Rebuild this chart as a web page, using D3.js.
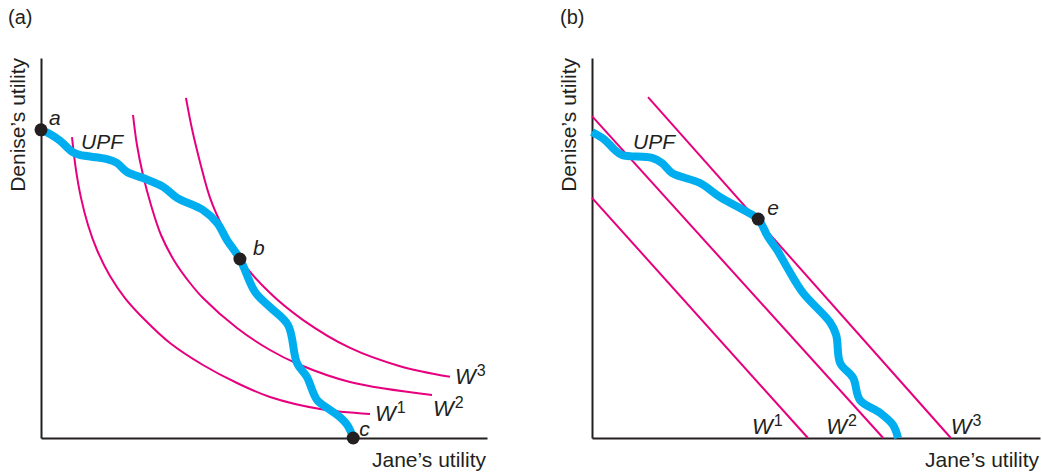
<!DOCTYPE html>
<html>
<head>
<meta charset="utf-8">
<script src="https://cdn.jsdelivr.net/npm/d3@7"></script>
<style>
  html, body { margin: 0; padding: 0; background: #ffffff; }
  svg { display: block; }
  text { font-family: "Liberation Sans", Arial, Helvetica, sans-serif; fill: #231f20; }
</style>
</head>
<body>
<svg id="chart" width="1042" height="472"></svg>
<script>
// ---------- Data (utility units, 0-100 on each axis) ----------
const panelTitles = ["(a)", "(b)"];
const xAxisLabel = "Jane\u2019s utility";
const yAxisLabel = "Denise\u2019s utility";
const frontierLabel = "UPF";

// Panel (a): utility possibilities frontier
const upfA_x = [0, 2.0, 4.3, 7.0, 8.7, 14.8, 17.0, 19.3, 22.9, 27.4, 30.5, 36.3, 39.5, 41.7, 44.6, 48.0, 51.3, 55.4, 57.4, 59.6, 61.9, 64.8, 67.0, 68.8, 70.0];
const upfA_y = [81.1, 80.0, 78.2, 75.3, 74.5, 73.4, 72.4, 70.0, 68.4, 66.1, 63.2, 60.0, 56.6, 52.1, 47.1, 38.4, 34.5, 29.7, 19.7, 16.1, 10.0, 7.4, 5.5, 3.2, 0];

// Panel (a): social indifference curves W1, W2, W3
const w1A_x = [6.95, 7.85, 8.97, 10.54, 12.56, 15.47, 18.83, 23.32, 28.92, 36.32, 43.95, 51.35, 62.56, 73.77];
const w1A_y = [79.2, 70.5, 63.2, 56.05, 49.47, 42.63, 36.84, 31.05, 25.0, 19.21, 14.47, 10.79, 7.63, 6.32];
const w2A_x = [20.63, 21.52, 22.87, 24.66, 26.91, 30.04, 33.41, 36.32, 43.95, 51.35, 57.62, 69.28, 87.67];
const w2A_y = [85.0, 77.1, 69.21, 61.32, 53.42, 46.32, 40.79, 36.84, 28.95, 23.16, 19.47, 14.74, 11.32];
const w3A_x = [32.5, 33.9, 35.7, 37.9, 40.8, 44.8, 51.3, 58.7, 69.3, 80.5, 91.7];
const w3A_y = [89.5, 81.1, 72.4, 63.2, 55.3, 46.8, 38.2, 31.1, 23.7, 18.9, 16.1];

// Panel (a): labelled points
const pointsA_name = ["a", "b", "c"];
const pointsA_x = [0, 44.6, 70.0];
const pointsA_y = [81.1, 47.1, 0];

// Panel (b): utility possibilities frontier
const upfB_x = [0, 2.9, 5.1, 6.7, 13.4, 15.6, 17.9, 24.1, 28.6, 34.6, 37.1, 39.3, 41.3, 43.5, 47.1, 53.1, 54.5, 55.4, 58.3, 59.8, 64.3, 67.2, 68.3];
const upfB_y = [80.5, 78.4, 75.8, 74.5, 73.7, 72.4, 69.7, 67.1, 63.4, 59.5, 57.6, 52.9, 49.5, 45.0, 38.2, 30.5, 27.1, 19.7, 15.8, 10.0, 6.6, 3.4, 0];

// Panel (b): linear social welfare lines W1, W2, W3 (end points)
const wB_x0 = [0, 0, 12.5];
const wB_y0 = [63.2, 84.7, 89.7];
const wB_x1 = [48.2, 65.0, 80.1];
const wB_y1 = [0, 0, 0];

// Panel (b): labelled point
const pointsB_name = ["e"];
const pointsB_x = [37.1];
const pointsB_y = [57.6];

const welfareNames = ["W", "W", "W"];
const welfareSup = ["1", "2", "3"];

// ---------- Drawing ----------
const svg = d3.select("#chart");
const BLUE = "#00aeef";
const PINK = "#e6007e";
const INK = "#231f20";

const xA = d3.scaleLinear().domain([0, 100]).range([41, 487]);
const xB = d3.scaleLinear().domain([0, 100]).range([592, 1040]);
const y = d3.scaleLinear().domain([0, 100]).range([438, 58]);

function drawAxes(x, yLabelX) {
  svg.append("g")
    .attr("transform", `translate(0,${y(0)})`)
    .call(d3.axisBottom(x).tickValues([]).tickSizeOuter(0))
    .call(g => g.select(".domain").attr("stroke", INK).attr("stroke-width", 2));
  svg.append("g")
    .attr("transform", `translate(${x(0)},0)`)
    .call(d3.axisLeft(y).tickValues([]).tickSizeOuter(0))
    .call(g => g.select(".domain").attr("stroke", INK).attr("stroke-width", 2));
  svg.append("text")
    .attr("x", x.range()[1] - 1).attr("y", 467)
    .attr("text-anchor", "end").attr("font-size", 21)
    .text(xAxisLabel);
  svg.append("text")
    .attr("transform", `translate(${yLabelX},${y(100)}) rotate(-90)`)
    .attr("text-anchor", "end").attr("font-size", 21)
    .text(yAxisLabel);
}

function curve(x, xs, ys, color, width, cType) {
  const pts = xs.map((d, i) => [d, ys[i]]);
  svg.append("path")
    .datum(pts)
    .attr("fill", "none")
    .attr("stroke", color)
    .attr("stroke-width", width)
    .attr("stroke-linejoin", "round")
    .attr("stroke-linecap", "butt")
    .attr("d", d3.line().x(d => x(d[0])).y(d => y(d[1])).curve(cType));
}

function welfareLabel(px, py, i) {
  const t = svg.append("text").attr("x", px).attr("y", py).attr("font-size", 22);
  t.append("tspan").attr("font-style", "italic").text(welfareNames[i]);
  t.append("tspan").attr("font-size", 16).attr("dx", 1).attr("dy", -8).text(welfareSup[i]);
}

function dots(x, names, xs, ys, offs) {
  names.forEach((n, i) => {
    svg.append("circle")
      .attr("cx", x(xs[i])).attr("cy", y(ys[i])).attr("r", 6.5).attr("fill", INK);
    svg.append("text")
      .attr("x", x(xs[i]) + offs[i][0]).attr("y", y(ys[i]) + offs[i][1])
      .attr("font-size", 21).attr("font-style", "italic")
      .text(n);
  });
}

// Titles
svg.append("text").attr("x", 8).attr("y", 24).attr("font-size", 20).text(panelTitles[0]);
svg.append("text").attr("x", 560).attr("y", 24).attr("font-size", 20).text(panelTitles[1]);

// ----- Panel (a) -----
drawAxes(xA, 25);
curve(xA, w1A_x, w1A_y, PINK, 2, d3.curveCatmullRom);
curve(xA, w2A_x, w2A_y, PINK, 2, d3.curveCatmullRom);
curve(xA, w3A_x, w3A_y, PINK, 2, d3.curveCatmullRom);
curve(xA, upfA_x, upfA_y, BLUE, 8, d3.curveCatmullRom);
const wAx = [w1A_x, w2A_x, w3A_x], wAy = [w1A_y, w2A_y, w3A_y];
const wAoff = [[5, 7], [1, 21], [5, 7]];
wAx.forEach((xs, i) => {
  const n = xs.length - 1;
  welfareLabel(xA(xs[n]) + wAoff[i][0], y(wAy[i][n]) + wAoff[i][1], i);
});
svg.append("text").attr("x", xA(upfA_x[0]) + 40).attr("y", y(upfA_y[0]) + 19)
  .attr("font-size", 21).attr("font-style", "italic").text(frontierLabel);
dots(xA, pointsA_name, pointsA_x, pointsA_y, [[8, -5], [13, -4], [6, -2]]);

// ----- Panel (b) -----
drawAxes(xB, 576);
wB_x0.forEach((d, i) => {
  svg.append("line")
    .attr("x1", xB(d)).attr("y1", y(wB_y0[i]))
    .attr("x2", xB(wB_x1[i])).attr("y2", y(wB_y1[i]))
    .attr("stroke", PINK).attr("stroke-width", 2);
});
curve(xB, upfB_x, upfB_y, BLUE, 8, d3.curveCatmullRom);
const wBoff = [-56, -57, 0];
wB_x1.forEach((d, i) => welfareLabel(xB(d) + wBoff[i], 434, i));
svg.append("text").attr("x", xB(upfB_x[0]) + 41).attr("y", y(upfB_y[0]) + 17)
  .attr("font-size", 21).attr("font-style", "italic").text(frontierLabel);
dots(xB, pointsB_name, pointsB_x, pointsB_y, [[9, -4]]);
</script>
</body>
</html>
